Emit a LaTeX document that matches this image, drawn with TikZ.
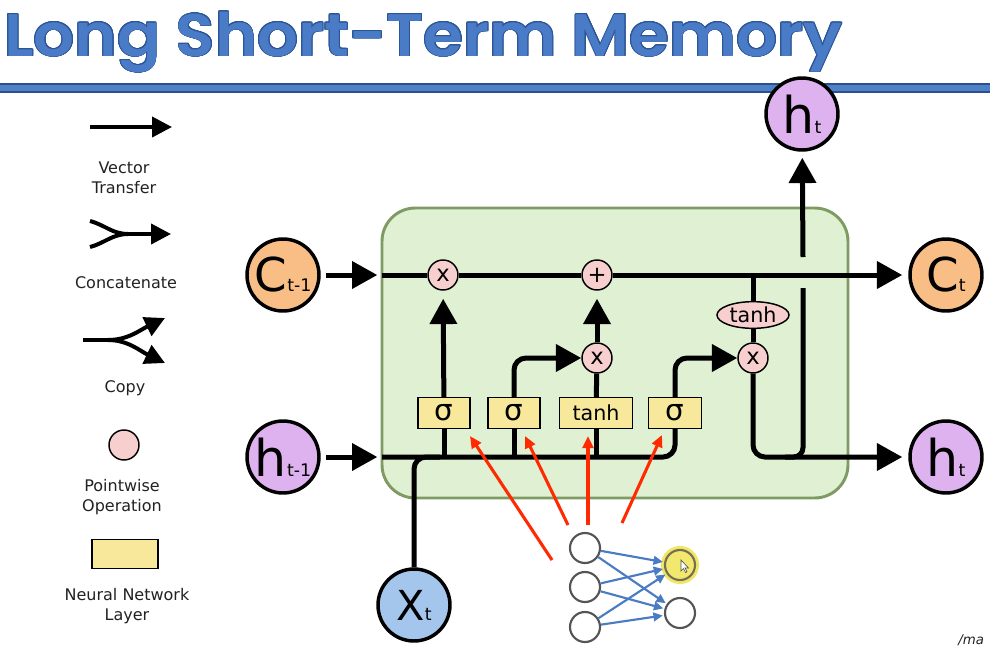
\documentclass[tikz,border=0pt]{standalone}
\usepackage{fontspec}
\setmainfont{DejaVu Sans}
\newfontfamily\titlefont{Poppins SemiBold}
\usepackage{contour}
\contourlength{0.6pt}
\usetikzlibrary{arrows.meta,shapes.geometric}

\definecolor{titleblue}{HTML}{4A7BC6}
\definecolor{titleedge}{HTML}{2C5596}
\definecolor{bandblue}{HTML}{4F81C8}
\definecolor{banddark}{HTML}{2B4F8C}
\definecolor{cellgreen}{HTML}{DFF0D3}
\definecolor{celledge}{HTML}{7D9B63}
\definecolor{corange}{HTML}{F9BE86}
\definecolor{hpurple}{HTML}{DDB2EE}
\definecolor{xblue}{HTML}{A4C6EC}
\definecolor{oppink}{HTML}{F8CFCF}
\definecolor{layeryellow}{HTML}{F7E89C}
\definecolor{gatered}{HTML}{FF2A00}
\definecolor{nnblue}{HTML}{4A7CC4}
\definecolor{nngray}{HTML}{555555}
\definecolor{legendtext}{HTML}{222222}
\definecolor{glow}{HTML}{EFE24A}

\newcommand{\statelabel}[3]{{\fontsize{#1}{#1}\selectfont #2}{\fontsize{13}{13}\selectfont #3}}

\begin{document}
\begin{tikzpicture}[x=0.75pt,y=-0.75pt,
  flow/.style={line width=3.75pt, black},
  bigtip/.style={-{Triangle[length=19pt,width=20pt]}},
  legline/.style={line width=3pt, black},
  legtip/.style={-{Triangle[length=15pt,width=15pt]}},
  statecirc/.style={circle, draw, line width=2.6pt, minimum size=54pt, inner sep=0pt},
  opcirc/.style={circle, draw, line width=1.1pt, fill=oppink, minimum size=22.5pt, inner sep=0pt, font=\fontsize{17}{17}\selectfont},
  layerbox/.style={rectangle, draw, line width=1.1pt, fill=layeryellow, minimum height=23pt, inner sep=0pt},
  legendlabel/.style={align=center, text=legendtext, font=\fontsize{12}{15}\selectfont},
  gatearrow/.style={line width=2.3pt, gatered, -{Triangle[length=9pt,width=8pt]}},
  neuron/.style={circle, draw=nngray, line width=1.6pt, fill=white, minimum size=22.5pt, inner sep=0pt},
  synapse/.style={line width=1.6pt, nnblue, -{Triangle[length=7pt,width=6.5pt]}}
]
\useasboundingbox (0,0) rectangle (990,647);
\fill[white] (0,0) rectangle (990,647);

% heading and rule
\node[anchor=base west, inner sep=0pt, text=titleblue,
      font=\titlefont\fontsize{45}{45}\selectfont] (title) at (4,56)
      {\scalebox{1.07}[1]{\contour{titleedge}{Long Short-Term Memory}}};
\fill[bandblue] (0,84) rectangle (990,92);
\draw[banddark, line width=0.9pt] (0,84) -- (990,84);
\draw[banddark, line width=0.9pt] (0,92) -- (990,92);

% legend
\draw[legline, legtip] (90,127) -- (172,127);
\node[legendlabel] (lvec) at (124,178) {Vector\\Transfer};
\draw[legline] (90,221) to[out=-15,in=180] (128,234);
\draw[legline] (90,247) to[out=15,in=180] (128,234);
\draw[legline, legtip] (125,234) -- (171,234);
\node[legendlabel] (lcat) at (126,283) {Concatenate};
\draw[legline] (83,340) -- (112,340);
\draw[legline, legtip] (108,340) .. controls (128,340) and (140,330) .. (165,318);
\draw[legline, legtip] (108,340) .. controls (128,340) and (140,351) .. (165,363);
\node[legendlabel] (lcopy) at (125,388) {Copy};
\node[opcirc] (lop) at (124,445) {};
\node[legendlabel] (lpw) at (122,497) {Pointwise\\Operation};
\node[layerbox, minimum width=49.5pt, minimum height=21.5pt] (llayer) at (125,554) {};
\node[legendlabel] (lnn) at (127,606) {Neural Network\\Layer};

% the cell
\draw[fill=cellgreen, draw=celledge, line width=2.2pt, rounded corners=25pt]
  (382,208) rectangle (848,498);

% states
\node[statecirc, fill=corange] (cprev) at (283,275) {\statelabel{35}{C}{t-1}};
\node[statecirc, fill=hpurple] (hprev) at (283,457) {\statelabel{38}{h}{t-1}};
\node[statecirc, fill=corange] (cnext) at (946,275) {\statelabel{35}{C}{t}};
\node[statecirc, fill=hpurple] (hnext) at (946,457) {\statelabel{38}{h}{t}};
\node[statecirc, fill=hpurple] (hup) at (802,114) {\statelabel{38}{h}{t}};
\node[statecirc, fill=xblue] (xin) at (414,605) {\statelabel{31}{X}{t}};

% pointwise operations
\node[opcirc] (mul1) at (443,275) {x};
\node[opcirc] (add) at (597,275) {+};
\node[opcirc] (mul2) at (597,358) {x};
\node[opcirc] (mul3) at (753,358) {x};
\node[ellipse, draw, line width=1.1pt, fill=oppink, minimum width=54pt, minimum height=20pt,
      inner sep=0pt, font=\fontsize{15.5}{15.5}\selectfont] (tanhc) at (753,315) {tanh};

% gate layers
\node[layerbox, minimum width=39pt] (g1) at (444,413) {\fontsize{22}{22}\selectfont σ};
\node[layerbox, minimum width=39pt] (g2) at (514,413) {\fontsize{22}{22}\selectfont σ};
\node[layerbox, minimum width=55pt] (g3) at (596,413) {\fontsize{15.5}{15.5}\selectfont tanh};
\node[layerbox, minimum width=40pt] (g4) at (675,413) {\fontsize{22}{22}\selectfont σ};

\coordinate (cin) at (382,275);
\coordinate (hin) at (382,457);
\coordinate (tbranch) at (753,275);

% inputs into the cell
\draw[flow, bigtip, shorten <=4pt, shorten >=3.5pt] (cprev) -- (cin);
\draw[flow, bigtip, shorten <=4pt, shorten >=3.5pt] (hprev) -- (hin);

% cell state line
\draw[flow] (cin) -- (mul1);
\draw[flow] (mul1) -- (add);
\draw[flow, bigtip, shorten >=4.5pt] (add) -- (cnext);

% hidden/input line feeding the gates
\draw[flow, rounded corners=9pt] (hin) -| (g4.south);
\draw[flow, rounded corners=9pt] (xin) |- (440,457);
\draw[flow] (g1.south) -- (g1.south |- hin);
\draw[flow] (g2.south) -- (g2.south |- hin);
\draw[flow] (g3.south) -- (g3.south |- hin);

% gate outputs
\draw[flow, bigtip, shorten >=6pt] (g1) -- (mul1);
\draw[flow, bigtip, rounded corners=9pt] (g2.north) |- (mul2);
\draw[flow] (g3) -- (mul2);
\draw[flow, bigtip, shorten >=6pt] (mul2) -- (add);
\draw[flow, bigtip, rounded corners=9pt] (g4.north) |- (mul3);

% output branch
\draw[flow] (tbranch) -- (tanhc);
\draw[flow] (tanhc) -- (mul3);
\draw[flow, bigtip, rounded corners=9pt, shorten >=4.5pt] (mul3) |- (hnext);
\draw[flow, rounded corners=7pt] (785,457) -| (803,288);
\draw[flow, bigtip, shorten >=4.5pt] (803,257) -- (hup);

% small network
\fill[glow, opacity=0.85] (680,565) circle[radius=19];
\node[neuron] (n1) at (585,548) {};
\node[neuron] (n2) at (585,587) {};
\node[neuron] (n3) at (585,627) {};
\node[neuron, fill=glow!80!white, draw=nngray!80!glow] (n4) at (680,565) {};
\node[neuron] (n5) at (680,613) {};
\foreach \a in {n1,n2,n3}{
  \foreach \b in {n4,n5}{
    \draw[synapse, shorten >=1pt] (\a) -- (\b);
  }
}
\draw[fill=white, draw=nngray, line width=0.5pt]
  (681,560) -- (681,571) -- (683.5,568.5) -- (685.5,572.5) -- (687,571.8) -- (685,568) -- (688.5,568) -- cycle;

% gate arrows
\coordinate (r1s) at (552,560);
\coordinate (r1e) at (470,436);
\coordinate (r2s) at (568,525);
\coordinate (r2e) at (525,436);
\coordinate (r3s) at (588,525);
\coordinate (r3e) at (588,436);
\coordinate (r4s) at (622,523);
\coordinate (r4e) at (662,435);
\draw[gatearrow] (r1s) -- (r1e);
\draw[gatearrow] (r2s) -- (r2e);
\draw[gatearrow] (r3s) -- (r3e);
\draw[gatearrow] (r4s) -- (r4e);

% corner caption
\node[anchor=base west, inner sep=0pt, text=legendtext, font=\itshape\fontsize{10}{10}\selectfont] (corner) at (958,644) {/ma};
\end{tikzpicture}
\end{document}
